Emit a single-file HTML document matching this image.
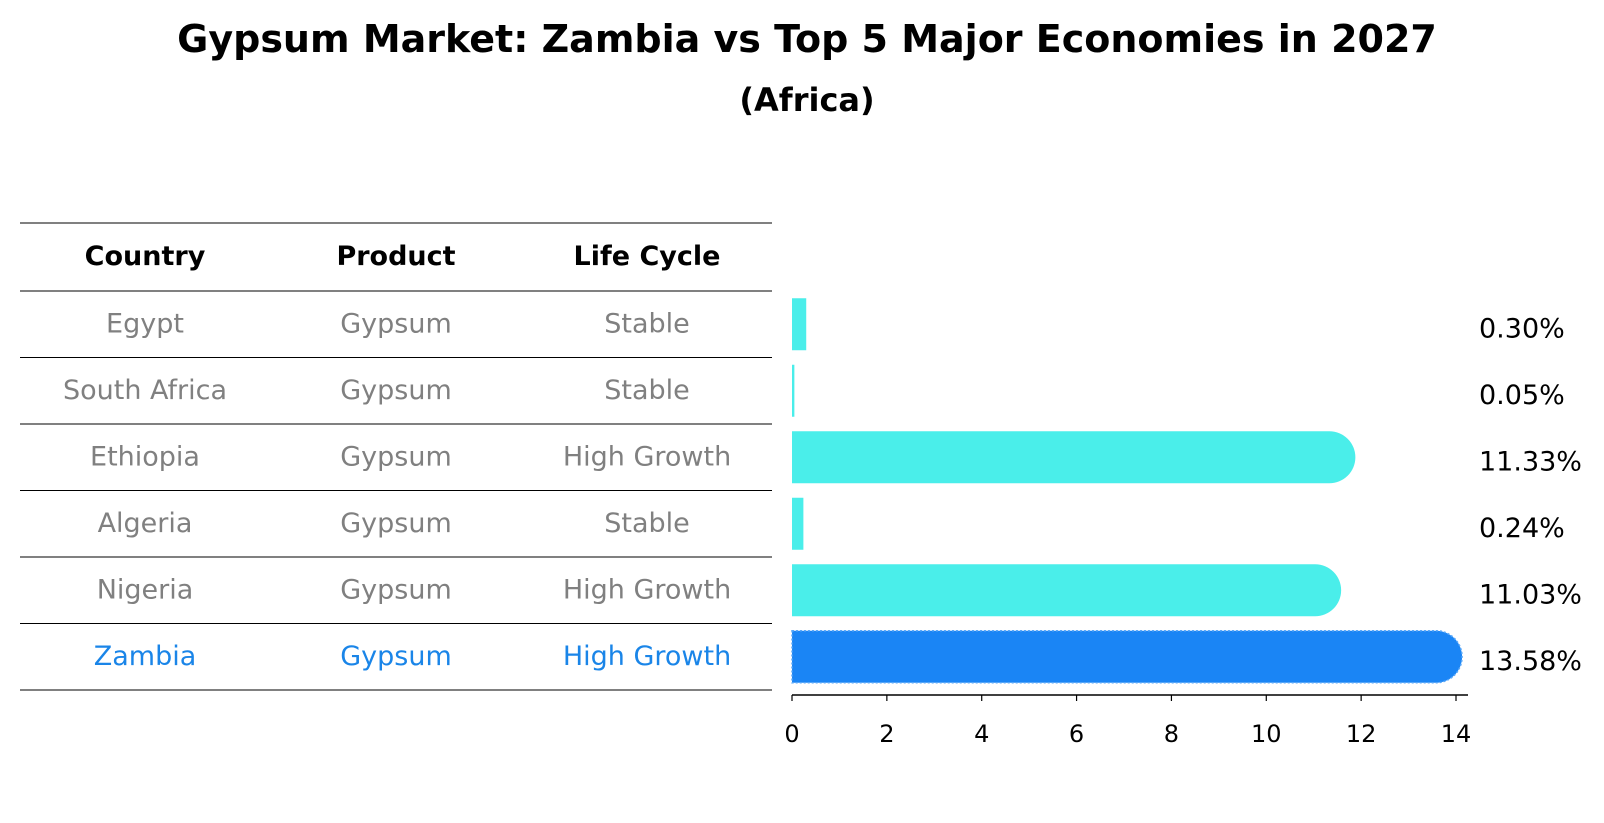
<!DOCTYPE html>
<html><head><meta charset="utf-8"><style>
body{margin:0;background:#fff;}
svg{display:block;font-family:"DejaVu Sans","Liberation Sans",sans-serif;}
</style></head><body>
<svg id="chart" width="1604" height="823" viewBox="0 0 1604 823">
<text x="807" y="52" text-anchor="middle" font-size="38" font-weight="bold">Gypsum Market: Zambia vs Top 5 Major Economies in 2027</text>
<text x="807" y="111" text-anchor="middle" font-size="32" font-weight="bold">(Africa)</text>
<g id="table"></g>
<g id="bars"></g>
<g id="axis"></g>
</svg>
<script>
const countries = ["Egypt","South Africa","Ethiopia","Algeria","Nigeria","Zambia"];
const products = ["Gypsum","Gypsum","Gypsum","Gypsum","Gypsum","Gypsum"];
const lifeCycles = ["Stable","Stable","High Growth","Stable","High Growth","High Growth"];
const values = [0.30,0.05,11.33,0.24,11.03,13.58];
const valueLabels = ["0.30%","0.05%","11.33%","0.24%","11.03%","13.58%"];
const xTicks = [0,2,4,6,8,10,12,14];
const headers = ["Country","Product","Life Cycle"];

const NS="http://www.w3.org/2000/svg";
function mk(tag,attrs,parent){const e=document.createElementNS(NS,tag);for(const k in attrs)e.setAttribute(k,attrs[k]);parent.appendChild(e);return e;}
const x0=792, pxPerUnit=(1456-792)/14;
function xs(v){return x0+v*pxPerUnit;}
const rowTop=291, rowH=66.5;
function yc(i){return rowTop+rowH*(i+0.5);}
const barH=52;

const table=document.getElementById('table');
const colX=[145,396,647];
const lineYs=[223];
for(let i=0;i<=countries.length;i++)lineYs.push(rowTop+rowH*i);
lineYs.forEach((y,i)=>{
  const l=mk('line',{x1:20,x2:772,y1:y,y2:y,stroke:'#000','stroke-width':1},table);
  
  
});
headers.forEach((h,j)=>{
  const t=mk('text',{x:colX[j],y:265,'text-anchor':'middle','font-size':'27','font-weight':'bold'},table);
  t.textContent=h;
  
  
});
countries.forEach((c,i)=>{
  const col=i===countries.length-1?'#1a85e8':'#808080';
  [c,products[i],lifeCycles[i]].forEach((txt,j)=>{
    const t=mk('text',{x:colX[j],y:yc(i)+8,'text-anchor':'middle','font-size':'27',fill:col},table);
    t.textContent=txt;
    
    
  });
});

const bars=document.getElementById('bars');
values.forEach((v,i)=>{
  const isZ=i===values.length-1;
  const fill=isZ?'#1a85f5':'#4aeeea';
  const cy=yc(i), top=cy-barH/2, xe=xs(v);
  const w=xe-x0;
  let el;
  if(w>barH/2){
    const r=barH/2;
    const d=`M${x0},${top} L${xe},${top} A${r},${r} 0 0 1 ${xe},${top+barH} L${x0},${top+barH} Z`;
    el=mk('path',{d:d,fill:fill},bars);
    if(isZ){el.setAttribute('stroke','#5aa8f8');el.setAttribute('stroke-width','1.5');el.setAttribute('stroke-dasharray','2 2');}
  } else {
    el=mk('rect',{x:x0,y:top,width:Math.max(w,2),height:barH,fill:fill},bars);
  }
  
  
  const t=mk('text',{x:1479,y:cy+13,'font-size':'27',fill:'#000'},bars);
  t.textContent=valueLabels[i];
  
  
});

const axis=document.getElementById('axis');
const al=mk('line',{x1:x0,x2:1468,y1:695,y2:695,stroke:'#000','stroke-width':1.5},axis);


xTicks.forEach(v=>{
  const tl=mk('line',{x1:xs(v),x2:xs(v),y1:695,y2:701,stroke:'#000','stroke-width':1.2},axis);
  
  
  const t=mk('text',{x:xs(v),y:742,'text-anchor':'middle','font-size':'24',fill:'#000'},axis);
  t.textContent=v;
  
  
});
</script>
</body></html>
